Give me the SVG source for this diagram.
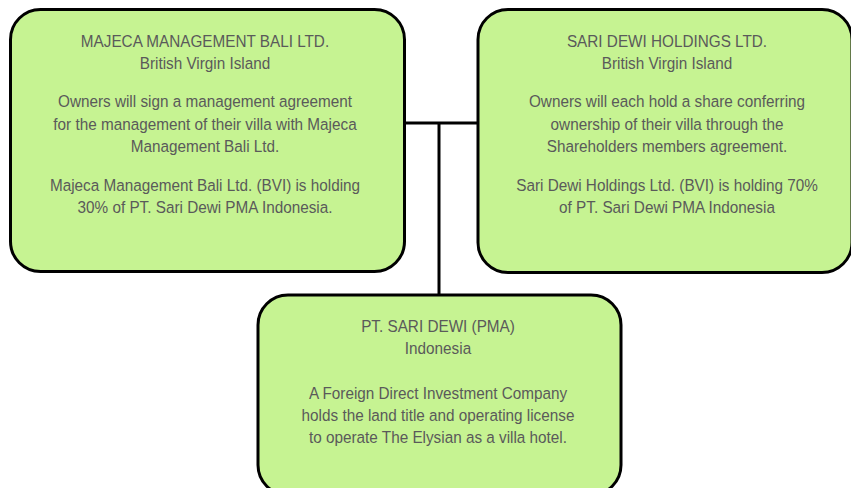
<svg xmlns="http://www.w3.org/2000/svg" width="851" height="488" viewBox="0 0 851 488">
  <style>
    .box { fill: #c6f392; stroke: #000; stroke-width: 3; }
    .txt { font-family: "Liberation Sans", Arial, sans-serif; font-size: 17px; fill: #5a5a5a; text-anchor: middle; }
    .wire { fill: none; stroke: #000; stroke-width: 3; }
  </style>
  <rect width="851" height="488" fill="#fff"/>

  <g id="connectors">
    <path class="wire" d="M401 123 H478"/>
    <path class="wire" d="M439 123 V295"/>
  </g>

  <g id="majeca">
    <rect class="box" x="10.5" y="9.5" width="394" height="262" rx="30" ry="30"/>
    <!-- condensed lettering: horizontal squeeze around the column centre -->
    <g transform="translate(205 0) scale(0.9 1)">
      <text class="txt" x="0" y="47">MAJECA MANAGEMENT BALI LTD.</text>
      <text class="txt" x="0" y="69.5">British Virgin Island</text>
      <text class="txt" x="0" y="107">Owners will sign a management agreement</text>
      <text class="txt" x="0" y="130">for the management of their villa with Majeca</text>
      <text class="txt" x="0" y="152.5">Management Bali Ltd.</text>
      <text class="txt" x="0" y="191">Majeca Management Bali Ltd. (BVI) is holding</text>
      <text class="txt" x="0" y="213">30% of PT. Sari Dewi PMA Indonesia.</text>
    </g>
  </g>

  <g id="sari-dewi-holdings">
    <rect class="box" x="478" y="9.5" width="374" height="263" rx="30" ry="30"/>
    <g transform="translate(667 0) scale(0.9 1)">
      <text class="txt" x="0" y="47">SARI DEWI HOLDINGS LTD.</text>
      <text class="txt" x="0" y="69.5">British Virgin Island</text>
      <text class="txt" x="0" y="107">Owners will each hold a share conferring</text>
      <text class="txt" x="0" y="130">ownership of their villa through the</text>
      <text class="txt" x="0" y="152.5">Shareholders members agreement.</text>
      <text class="txt" x="0" y="191">Sari Dewi Holdings Ltd. (BVI) is holding 70%</text>
      <text class="txt" x="0" y="213">of PT. Sari Dewi PMA Indonesia</text>
    </g>
  </g>

  <g id="pt-sari-dewi">
    <rect class="box" x="258" y="295" width="363" height="200" rx="30" ry="30"/>
    <g transform="translate(438 0) scale(0.9 1)">
      <text class="txt" x="0" y="332">PT. SARI DEWI (PMA)</text>
      <text class="txt" x="0" y="354">Indonesia</text>
      <text class="txt" x="0" y="399">A Foreign Direct Investment Company</text>
      <text class="txt" x="0" y="421">holds the land title and operating license</text>
      <text class="txt" x="0" y="443">to operate The Elysian as a villa hotel.</text>
    </g>
  </g>
</svg>
